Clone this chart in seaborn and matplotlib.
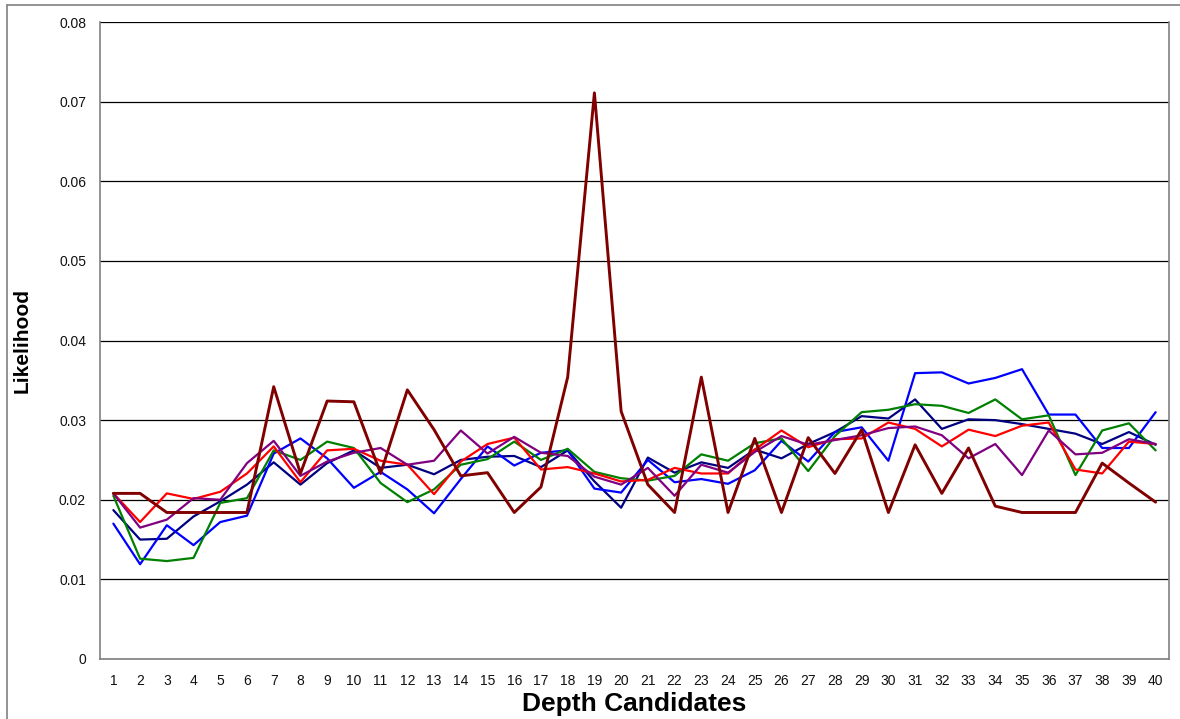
import numpy as np
import pandas as pd
import matplotlib
matplotlib.use("Agg")
import matplotlib.pyplot as plt
import seaborn as sns
from matplotlib.ticker import FixedLocator, FuncFormatter
from matplotlib.lines import Line2D

depth = list(range(1, 41))

navy = [0.0187, 0.0150, 0.0151, 0.0179, 0.0198, 0.0219, 0.0247, 0.0219, 0.0246, 0.0262,
        0.0240, 0.0244, 0.0232, 0.0250, 0.0254, 0.0255, 0.0241, 0.0262, 0.0223, 0.0190,
        0.0253, 0.0234, 0.0247, 0.0240, 0.0263, 0.0252, 0.0270, 0.0285, 0.0305, 0.0302,
        0.0326, 0.0289, 0.0301, 0.0300, 0.0295, 0.0289, 0.0283, 0.0270, 0.0285, 0.0269]
blue = [0.0170, 0.0119, 0.0168, 0.0143, 0.0172, 0.0180, 0.0258, 0.0277, 0.0252, 0.0215,
        0.0235, 0.0213, 0.0183, 0.0226, 0.0267, 0.0243, 0.0259, 0.0262, 0.0214, 0.0209,
        0.0250, 0.0222, 0.0226, 0.0220, 0.0237, 0.0274, 0.0248, 0.0285, 0.0291, 0.0249,
        0.0359, 0.0360, 0.0346, 0.0353, 0.0364, 0.0307, 0.0307, 0.0265, 0.0265, 0.0310]
green = [0.0205, 0.0126, 0.0123, 0.0127, 0.0196, 0.0202, 0.0262, 0.0250, 0.0273, 0.0265,
         0.0221, 0.0197, 0.0213, 0.0244, 0.0251, 0.0273, 0.0250, 0.0264, 0.0235, 0.0227,
         0.0224, 0.0230, 0.0257, 0.0249, 0.0271, 0.0277, 0.0236, 0.0280, 0.0310, 0.0313,
         0.0320, 0.0318, 0.0309, 0.0326, 0.0301, 0.0306, 0.0231, 0.0287, 0.0296, 0.0262]
red = [0.0208, 0.0172, 0.0208, 0.0201, 0.0210, 0.0233, 0.0267, 0.0222, 0.0262, 0.0264,
       0.0249, 0.0244, 0.0207, 0.0248, 0.0270, 0.0278, 0.0238, 0.0241, 0.0233, 0.0223,
       0.0225, 0.0240, 0.0233, 0.0233, 0.0263, 0.0287, 0.0266, 0.0276, 0.0277, 0.0297,
       0.0289, 0.0267, 0.0288, 0.0280, 0.0293, 0.0297, 0.0238, 0.0233, 0.0273, 0.0270]
purple = [0.0208, 0.0165, 0.0175, 0.0202, 0.0200, 0.0246, 0.0274, 0.0230, 0.0248, 0.0259,
          0.0265, 0.0244, 0.0249, 0.0287, 0.0258, 0.0279, 0.0259, 0.0255, 0.0229, 0.0219,
          0.0240, 0.0205, 0.0244, 0.0234, 0.0260, 0.0280, 0.0269, 0.0275, 0.0281, 0.0290,
          0.0292, 0.0281, 0.0252, 0.0270, 0.0231, 0.0287, 0.0257, 0.0259, 0.0276, 0.0270]
maroon = [0.0208, 0.0208, 0.0184, 0.0184, 0.0184, 0.0184, 0.0342, 0.0233, 0.0324, 0.0323,
          0.0233, 0.0338, 0.0288, 0.0230, 0.0234, 0.0184, 0.0216, 0.0354, 0.0711, 0.0311,
          0.0219, 0.0184, 0.0354, 0.0184, 0.0277, 0.0184, 0.0278, 0.0233, 0.0288, 0.0184,
          0.0269, 0.0208, 0.0265, 0.0192, 0.0184, 0.0184, 0.0184, 0.0246, 0.0221, 0.0197]

series = {"navy": navy, "blue": blue, "green": green, "red": red,
          "purple": purple, "maroon": maroon}
colors = {"navy": "#000080", "blue": "#0000FF", "green": "#008000",
          "red": "#FF0000", "purple": "#800080", "maroon": "#800000"}
widths = {"navy": 1.6, "blue": 1.6, "green": 1.6, "red": 1.6,
          "purple": 1.6, "maroon": 2.1}

frames = []
for name, vals in series.items():
    frames.append(pd.DataFrame({"depth": depth, "likelihood": vals, "series": name}))
df = pd.concat(frames, ignore_index=True)

sns.set_style("white")
plt.rcParams['font.family'] = ['Liberation Sans', 'DejaVu Sans']
plt.rcParams['text.color'] = '#000000'
plt.rcParams['axes.labelcolor'] = '#000000'

fig = plt.figure(figsize=(11.8, 7.19), dpi=100)
W, H = 1180, 719
ax = fig.add_axes([100 / W, 1 - 659 / H, (1169 - 100) / W, (659 - 22) / H])

for name in series:
    sub = df[df["series"] == name]
    sns.lineplot(data=sub, x="depth", y="likelihood", color=colors[name],
                 linewidth=widths[name], ax=ax, legend=False, zorder=3)

ax.set_xlim(0.5, 40.5)
ax.set_ylim(0, 0.08)
yt = [i / 100 for i in range(0, 9)]
ax.set_yticks(yt)
ax.yaxis.set_major_formatter(FuncFormatter(lambda v, p: "0" if v == 0 else f"{v:.2f}"))
ax.set_xticks(depth)
ax.set_xticklabels([str(d) for d in depth])
ax.xaxis.set_minor_locator(FixedLocator([d + 0.5 for d in range(0, 41)]))
ax.tick_params(axis="x", which="major", length=0, pad=11, labelsize=10,
               labelcolor="#111111")
ax.tick_params(axis="x", which="minor", length=4, width=1, color="#808080", direction="out")
ax.tick_params(axis="y", which="major", length=4, width=1, color="#808080",
               direction="out", labelsize=10, pad=6, labelcolor="#111111")
ax.grid(axis="y", color="#000000", linewidth=0.9, zorder=1)
ax.grid(axis="x", visible=False)
ax.set_axisbelow(True)
for s in ["left", "bottom", "right"]:
    ax.spines[s].set_visible(True)
    ax.spines[s].set_color("#808080")
    ax.spines[s].set_linewidth(1.2)
ax.spines["top"].set_visible(False)

ax.set_xlabel("Depth Candidates", fontsize=19, fontweight="bold", labelpad=3,
              color="#000000")
ax.set_ylabel("Likelihood", fontsize=15, fontweight="bold", labelpad=20,
              color="#000000")

# outer frame lines (left and top)
fig.add_artist(Line2D([7 / W, 7 / W], [0, 1 - 5 / H], color="#808080", linewidth=1.2,
                      transform=fig.transFigure))
fig.add_artist(Line2D([7 / W, 1], [1 - 5 / H, 1 - 5 / H], color="#808080", linewidth=1.2,
                      transform=fig.transFigure))

fig.savefig("out.png", dpi=100)
